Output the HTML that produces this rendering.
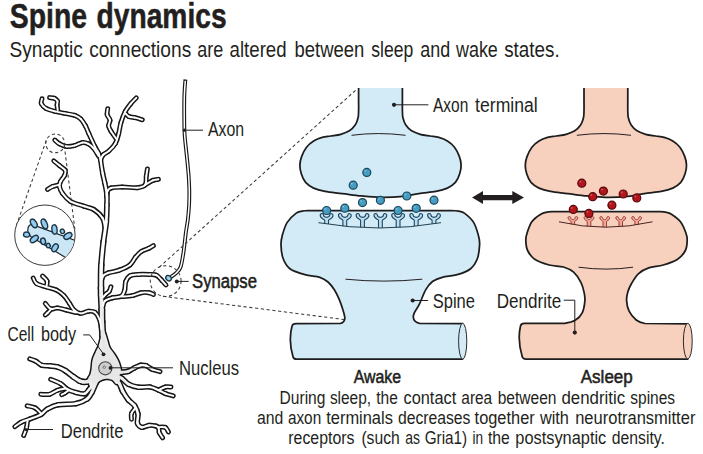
<!DOCTYPE html>
<html><head><meta charset="utf-8">
<style>
html,body{margin:0;padding:0;background:#fff;}
svg{display:block;}
text{font-family:"Liberation Sans",sans-serif;fill:#231f20;}
.lbl{font-size:20px;}
.cap{font-size:18.7px;}
.med{stroke:#231f20;stroke-width:0.55px;stroke-linejoin:round;}
.k{stroke:#161616;fill:none;stroke-linecap:round;stroke-linejoin:round;}
.w{stroke:url(#ng);fill:none;stroke-linecap:round;stroke-linejoin:round;}
.ld{stroke:#231f20;stroke-width:1;fill:none;}
.dash{stroke:#3a3a3a;stroke-width:1.05;fill:none;stroke-dasharray:3.2 2.6;}
</style></head><body>
<svg width="703" height="454" viewBox="0 0 703 454">
<defs>
<radialGradient id="ng" gradientUnits="userSpaceOnUse" cx="105" cy="367" r="40">
<stop offset="0" stop-color="#e3e3e3"/><stop offset="0.45" stop-color="#e8e8e8"/><stop offset="1" stop-color="#ffffff"/>
</radialGradient>
<linearGradient id="tg" gradientUnits="userSpaceOnUse" x1="0" y1="350" x2="0" y2="262">
<stop offset="0" stop-color="#e6e6e6"/><stop offset="0.5" stop-color="#ededed"/><stop offset="1" stop-color="#ffffff"/>
</linearGradient>
<clipPath id="magc"><circle cx="44.9" cy="235.2" r="29.8"/></clipPath>
</defs>
<rect width="703" height="454" fill="#fff"/>

<!-- TEXT -->
<text font-size="34.2" font-weight="bold" stroke="#231f20" stroke-width="0.5" y="28.4"><tspan x="9.8" textLength="77.3" lengthAdjust="spacingAndGlyphs">Spine</tspan> <tspan x="96.6" textLength="130.0" lengthAdjust="spacingAndGlyphs">dynamics</tspan></text>
<text font-size="22.2" y="56.7"><tspan x="9.6" textLength="73.2" lengthAdjust="spacingAndGlyphs">Synaptic</tspan> <tspan x="89.2" textLength="102.0" lengthAdjust="spacingAndGlyphs">connections</tspan> <tspan x="197.2" textLength="26.0" lengthAdjust="spacingAndGlyphs">are</tspan> <tspan x="229.6" textLength="57.0" lengthAdjust="spacingAndGlyphs">altered</tspan> <tspan x="294.5" textLength="69.8" lengthAdjust="spacingAndGlyphs">between</tspan> <tspan x="371.3" textLength="42.0" lengthAdjust="spacingAndGlyphs">sleep</tspan> <tspan x="420.3" textLength="29.9" lengthAdjust="spacingAndGlyphs">and</tspan> <tspan x="456.0" textLength="41.8" lengthAdjust="spacingAndGlyphs">wake</tspan> <tspan x="504.2" textLength="55.5" lengthAdjust="spacingAndGlyphs">states.</tspan></text>
<text class="cap" y="403.7"><tspan x="279.6" textLength="45.8" lengthAdjust="spacingAndGlyphs">During</tspan> <tspan x="329.9" textLength="41.1" lengthAdjust="spacingAndGlyphs">sleep,</tspan> <tspan x="376.3" textLength="21.6" lengthAdjust="spacingAndGlyphs">the</tspan> <tspan x="403.5" textLength="52.7" lengthAdjust="spacingAndGlyphs">contact</tspan> <tspan x="461.3" textLength="30.9" lengthAdjust="spacingAndGlyphs">area</tspan> <tspan x="497.7" textLength="58.8" lengthAdjust="spacingAndGlyphs">between</tspan> <tspan x="561.5" textLength="63.6" lengthAdjust="spacingAndGlyphs">dendritic</tspan> <tspan x="630.3" textLength="44.8" lengthAdjust="spacingAndGlyphs">spines</tspan></text>
<text class="cap" y="424.1"><tspan x="257.0" textLength="26.3" lengthAdjust="spacingAndGlyphs">and</tspan> <tspan x="287.9" textLength="33.3" lengthAdjust="spacingAndGlyphs">axon</tspan> <tspan x="326.2" textLength="66.7" lengthAdjust="spacingAndGlyphs">terminals</tspan> <tspan x="397.9" textLength="72.6" lengthAdjust="spacingAndGlyphs">decreases</tspan> <tspan x="474.6" textLength="60.1" lengthAdjust="spacingAndGlyphs">together</tspan> <tspan x="539.9" textLength="29.0" lengthAdjust="spacingAndGlyphs">with</tspan> <tspan x="575.2" textLength="120.2" lengthAdjust="spacingAndGlyphs">neurotransmitter</tspan></text>
<text class="cap" y="444.2"><tspan x="288.3" textLength="66.2" lengthAdjust="spacingAndGlyphs">receptors</tspan> <tspan x="361.4" textLength="38.4" lengthAdjust="spacingAndGlyphs">(such</tspan> <tspan x="405.3" textLength="14.8" lengthAdjust="spacingAndGlyphs">as</tspan> <tspan x="424.7" textLength="42.5" lengthAdjust="spacingAndGlyphs">Gria1)</tspan> <tspan x="472.6" textLength="10.6" lengthAdjust="spacingAndGlyphs">in</tspan> <tspan x="487.9" textLength="21.9" lengthAdjust="spacingAndGlyphs">the</tspan> <tspan x="515.3" textLength="91.0" lengthAdjust="spacingAndGlyphs">postsynaptic</tspan> <tspan x="611.8" textLength="53.1" lengthAdjust="spacingAndGlyphs">density.</tspan></text>
<!-- /TEXT -->

<!-- SYNAPSES -->
<g id="awake">
<path id="aw-term" d="M358.6,88.0 C358.6,90.0 358.6,96.2 358.6,100.0 C358.6,103.8 358.7,107.8 358.6,110.8 C358.5,113.8 358.6,115.6 358.0,118.0 C357.4,120.4 356.6,123.0 355.2,125.1 C353.8,127.2 351.8,129.3 349.4,130.8 C347.0,132.3 343.9,133.4 340.8,134.3 C337.7,135.2 333.9,135.5 330.8,136.0 C327.7,136.5 325.1,136.6 322.2,137.4 C319.3,138.2 316.2,139.3 313.6,140.9 C311.0,142.5 308.5,144.6 306.5,147.2 C304.5,149.8 302.7,153.6 301.6,156.6 C300.5,159.6 299.9,162.3 299.9,165.2 C299.8,168.1 300.4,170.9 301.3,173.8 C302.2,176.7 303.6,180.0 305.6,182.4 C307.7,184.8 310.4,186.6 313.6,188.1 C316.9,189.6 320.3,190.5 325.1,191.4 C329.9,192.3 336.3,192.8 342.3,193.6 C348.3,194.3 354.7,195.3 361.0,195.9 C367.3,196.5 373.5,197.2 380.0,197.3 C386.5,197.4 393.6,197.3 400.0,196.7 C406.4,196.1 412.7,194.5 418.7,193.6 C424.7,192.7 431.1,192.3 435.9,191.4 C440.7,190.5 444.1,189.6 447.4,188.1 C450.6,186.6 453.3,184.8 455.4,182.4 C457.4,180.0 458.8,176.7 459.7,173.8 C460.6,170.9 461.2,168.1 461.1,165.2 C461.1,162.3 460.5,159.6 459.4,156.6 C458.3,153.6 456.5,149.8 454.5,147.2 C452.5,144.6 450.0,142.5 447.4,140.9 C444.8,139.3 441.7,138.2 438.8,137.4 C435.9,136.6 433.3,136.5 430.2,136.0 C427.1,135.5 423.3,135.2 420.2,134.3 C417.1,133.4 414.0,132.3 411.6,130.8 C409.2,129.3 407.2,127.2 405.8,125.1 C404.4,123.0 403.6,120.4 403.0,118.0 C402.4,115.6 402.5,113.8 402.4,110.8 C402.3,107.8 402.4,103.8 402.4,100.0 C402.4,96.2 402.4,90.0 402.4,88.0" fill="#d2ebf7" stroke="#1d1d1d" stroke-width="1.75"/>
<path d="M351.5,135.3 Q378,131.8 405.5,135.3" class="ld" stroke-width="0.9"/>
<path id="aw-spine" d="M307.9,210.5 L451.2,210.5 C454.3,210.6 456.2,210.7 458.5,211.2 C460.8,211.7 462.2,211.5 464.7,213.4 C467.2,215.3 471.3,218.7 473.6,222.4 C475.9,226.1 477.5,232.1 478.5,235.8 C479.5,239.5 479.8,241.1 479.6,244.8 C479.4,248.5 479.0,254.2 477.5,258.2 C476.0,262.2 474.0,265.9 470.6,268.7 C467.2,271.4 461.9,273.3 457.2,274.7 C452.5,276.1 446.4,276.2 442.3,277.3 C438.2,278.4 435.2,279.4 432.5,281.5 C429.8,283.6 428.0,285.8 425.8,289.6 C423.6,293.4 421.3,300.2 419.4,304.1 C417.5,308.0 415.3,310.7 414.3,312.9 C413.3,315.1 413.2,315.9 413.3,317.3 C413.4,318.7 414.0,320.2 415.0,321.2 C416.0,322.2 417.0,322.9 419.5,323.3 L462.4,323.5 L462.4,359.2 L296.5,359.2 C294.5,359.2 293.4,358.6 293,356.8 C290.4,348 289.3,336 292.1,325.8 C292.5,324.2 294,323.5 296,323.5 L340.5,323.4 C342.8,323.0 343.3,322.0 344.0,321.0 C344.7,320.0 345.0,319.2 344.8,317.3 C344.6,315.4 343.8,312.5 342.8,309.4 C341.8,306.3 340.4,302.0 339.0,298.8 C337.6,295.6 336.3,292.8 334.5,290.0 C332.7,287.2 330.4,284.1 328.0,282.0 C325.6,279.9 323.7,278.5 319.8,277.3 C315.9,276.1 309.9,276.1 304.9,274.7 C299.9,273.3 293.5,271.4 289.9,268.7 C286.2,265.9 284.5,262.2 283.0,258.2 C281.5,254.2 281.1,248.5 281.0,244.8 C280.9,241.1 281.2,239.5 282.2,235.8 C283.2,232.1 284.9,226.1 287.2,222.4 C289.5,218.7 293.4,215.3 295.9,213.4 C298.4,211.5 300.0,211.7 302.0,211.2 C304.0,210.7 304.9,210.6 307.9,210.5 Z" fill="#d2ebf7" stroke="#1d1d1d" stroke-width="1.75"/>
<ellipse cx="462.7" cy="341.2" rx="4.1" ry="17.9" fill="#d2ebf7" stroke="#2a2a2a" stroke-width="1"/>
<path d="M345.5,279.2 Q384,283 422.3,279.2" class="ld" stroke-width="0.9"/>
</g>

<g id="asleep">
<path transform="translate(225.4 0)" d="M358.6,88.0 C358.6,90.0 358.6,96.2 358.6,100.0 C358.6,103.8 358.7,107.8 358.6,110.8 C358.5,113.8 358.6,115.6 358.0,118.0 C357.4,120.4 356.6,123.0 355.2,125.1 C353.8,127.2 351.8,129.3 349.4,130.8 C347.0,132.3 343.9,133.4 340.8,134.3 C337.7,135.2 333.9,135.5 330.8,136.0 C327.7,136.5 325.1,136.6 322.2,137.4 C319.3,138.2 316.2,139.3 313.6,140.9 C311.0,142.5 308.5,144.6 306.5,147.2 C304.5,149.8 302.7,153.6 301.6,156.6 C300.5,159.6 299.9,162.3 299.9,165.2 C299.8,168.1 300.4,170.9 301.3,173.8 C302.2,176.7 303.6,180.0 305.6,182.4 C307.7,184.8 310.4,186.6 313.6,188.1 C316.9,189.6 320.3,190.5 325.1,191.4 C329.9,192.3 336.3,192.8 342.3,193.6 C348.3,194.3 354.7,195.3 361.0,195.9 C367.3,196.5 373.5,197.2 380.0,197.3 C386.5,197.4 393.6,197.3 400.0,196.7 C406.4,196.1 412.7,194.5 418.7,193.6 C424.7,192.7 431.1,192.3 435.9,191.4 C440.7,190.5 444.1,189.6 447.4,188.1 C450.6,186.6 453.3,184.8 455.4,182.4 C457.4,180.0 458.8,176.7 459.7,173.8 C460.6,170.9 461.2,168.1 461.1,165.2 C461.1,162.3 460.5,159.6 459.4,156.6 C458.3,153.6 456.5,149.8 454.5,147.2 C452.5,144.6 450.0,142.5 447.4,140.9 C444.8,139.3 441.7,138.2 438.8,137.4 C435.9,136.6 433.3,136.5 430.2,136.0 C427.1,135.5 423.3,135.2 420.2,134.3 C417.1,133.4 414.0,132.3 411.6,130.8 C409.2,129.3 407.2,127.2 405.8,125.1 C404.4,123.0 403.6,120.4 403.0,118.0 C402.4,115.6 402.5,113.8 402.4,110.8 C402.3,107.8 402.4,103.8 402.4,100.0 C402.4,96.2 402.4,90.0 402.4,88.0" fill="#f8d0be" stroke="#1d1d1d" stroke-width="1.75"/>
<path d="M576.8,135.300 Q604,131.800 631,135.300" class="ld" stroke-width="0.9"/>
<path id="as-spine" d="M552,211.7 L660.3,211.7 C663.0,211.8 664.6,211.9 666.5,212.4 C668.4,212.9 669.5,212.9 671.8,214.4 C674.1,215.9 678.1,218.6 680.5,221.7 C682.9,224.8 684.9,230.1 686.0,233.2 C687.1,236.3 687.3,237.5 687.2,240.4 C687.1,243.3 687.0,247.4 685.4,250.5 C683.8,253.6 681.3,256.8 677.6,259.2 C673.9,261.6 668.0,263.6 663.2,265.0 C658.4,266.4 652.8,266.5 648.7,267.9 C644.6,269.3 641.5,271.0 638.6,273.6 C635.7,276.2 633.2,280.6 631.4,283.7 C629.6,286.8 628.6,289.2 627.8,292.0 C627.0,294.8 626.4,297.4 626.6,300.6 C626.8,303.8 627.5,308.0 629.1,311.2 C630.7,314.4 633.6,317.9 636.2,320.0 C638.9,322.1 641.9,322.9 645.0,323.5 L687.6,323.8 L687.6,359 L526,359 C523.6,359 522.6,358.3 522.2,356.6 C519.6,348 518.2,336 520.5,326 C520.9,324.2 522.2,323.4 524.5,323.4 L564.6,323.3 C568.0,322.8 572.3,322.0 575.2,320.3 C578.1,318.6 580.6,316.2 582.2,312.9 C583.8,309.6 584.6,304.1 584.9,300.6 C585.2,297.1 584.7,295.1 584.0,292.0 C583.3,288.9 582.6,285.6 580.9,282.3 C579.2,279.0 576.5,274.8 573.6,272.2 C570.7,269.6 567.6,268.2 563.5,267.0 C559.4,265.8 553.9,266.3 549.1,265.0 C544.3,263.7 538.3,261.6 534.7,259.2 C531.1,256.8 529.1,253.6 527.6,250.5 C526.1,247.4 525.9,243.3 525.8,240.4 C525.7,237.5 526.0,236.3 527.0,233.2 C528.0,230.1 529.6,224.8 531.8,221.7 C534.0,218.6 538.0,215.9 540.4,214.4 C542.8,212.9 544.1,212.9 546.0,212.4 C547.9,211.9 549.3,211.8 552.0,211.7 Z" fill="#f8d0be" stroke="#1d1d1d" stroke-width="1.75"/>
<ellipse cx="687.8" cy="341.1" rx="4.4" ry="17.8" fill="#f8d0be" stroke="#2a2a2a" stroke-width="1"/>
<path d="M578.600,267.200 Q606,271 633,267.200" class="ld" stroke-width="0.9"/>
</g>


<!-- RV -->
<path d="M324.7,224.0 L324.7,220.3 C324.7,219.0 320.2,219.1 320.2,215.0 C320.0,213.5 323.1,212.9 323.4,214.6 C323.5,216.8 325.6,217.4 326.6,217.4 C327.6,217.4 329.7,216.8 329.8,214.6 C330.1,212.9 333.2,213.5 333.0,215.5 C333.0,219.1 328.5,219.0 328.5,220.3 L328.5,224.0" fill="#bcdef1" stroke="#1f465f" stroke-width="1.1" stroke-linejoin="round"/>
<path d="M342.9,226.3 L342.9,220.3 C342.9,219.0 338.4,219.1 338.4,215.0 C338.2,213.5 341.3,212.9 341.6,214.6 C341.7,216.8 343.8,217.4 344.8,217.4 C345.8,217.4 347.9,216.8 348.0,214.6 C348.3,212.9 351.4,213.5 351.2,215.5 C351.2,219.1 346.7,219.0 346.7,220.3 L346.7,226.3" fill="#bcdef1" stroke="#1f465f" stroke-width="1.1" stroke-linejoin="round"/>
<path d="M360.6,227.6 L360.6,220.3 C360.6,219.0 356.1,219.1 356.1,215.0 C355.9,213.5 359.0,212.9 359.3,214.6 C359.4,216.8 361.5,217.4 362.5,217.4 C363.5,217.4 365.6,216.8 365.7,214.6 C366.0,212.9 369.1,213.5 368.9,215.5 C368.9,219.1 364.4,219.0 364.4,220.3 L364.4,227.6" fill="#bcdef1" stroke="#1f465f" stroke-width="1.1" stroke-linejoin="round"/>
<path d="M378.5,228.0 L378.5,220.3 C378.5,219.0 374.0,219.1 374.0,215.0 C373.8,213.5 376.9,212.9 377.2,214.6 C377.3,216.8 379.4,217.4 380.4,217.4 C381.4,217.4 383.5,216.8 383.6,214.6 C383.9,212.9 387.0,213.5 386.8,215.5 C386.8,219.1 382.3,219.0 382.3,220.3 L382.3,228.0" fill="#bcdef1" stroke="#1f465f" stroke-width="1.1" stroke-linejoin="round"/>
<path d="M396.2,227.5 L396.2,220.3 C396.2,219.0 391.7,219.1 391.7,215.0 C391.5,213.5 394.6,212.9 394.9,214.6 C395.0,216.8 397.1,217.4 398.1,217.4 C399.1,217.4 401.2,216.8 401.3,214.6 C401.6,212.9 404.7,213.5 404.5,215.5 C404.5,219.1 400.0,219.0 400.0,220.3 L400.0,227.5" fill="#bcdef1" stroke="#1f465f" stroke-width="1.1" stroke-linejoin="round"/>
<path d="M414.3,226.1 L414.3,220.3 C414.3,219.0 409.8,219.1 409.8,215.0 C409.6,213.5 412.7,212.9 413.0,214.6 C413.1,216.8 415.2,217.4 416.2,217.4 C417.2,217.4 419.3,216.8 419.4,214.6 C419.7,212.9 422.8,213.5 422.6,215.5 C422.6,219.1 418.1,219.0 418.1,220.3 L418.1,226.1" fill="#bcdef1" stroke="#1f465f" stroke-width="1.1" stroke-linejoin="round"/>
<path d="M432.1,223.8 L432.1,220.3 C432.1,219.0 427.6,219.1 427.6,215.0 C427.4,213.5 430.5,212.9 430.8,214.6 C430.9,216.8 433.0,217.4 434.0,217.4 C435.0,217.4 437.1,216.8 437.2,214.6 C437.5,212.9 440.6,213.5 440.4,215.5 C440.4,219.1 435.9,219.0 435.9,220.3 L435.9,223.8" fill="#bcdef1" stroke="#1f465f" stroke-width="1.1" stroke-linejoin="round"/>
<path d="M318.4,222.7 Q380,233.3 441,222.7" fill="none" stroke="#24404f" stroke-width="1"/>
<circle cx="366.8" cy="172.4" r="4.0" fill="#469dc2" stroke="#1c4659" stroke-width="1.2"/>
<circle cx="365.4" cy="170.9" r="0.9" fill="#7cc0dc"/>
<circle cx="353.2" cy="185.2" r="4.0" fill="#469dc2" stroke="#1c4659" stroke-width="1.2"/>
<circle cx="351.8" cy="183.7" r="0.9" fill="#7cc0dc"/>
<circle cx="362.5" cy="202.6" r="4.0" fill="#469dc2" stroke="#1c4659" stroke-width="1.2"/>
<circle cx="361.1" cy="201.1" r="0.9" fill="#7cc0dc"/>
<circle cx="380.4" cy="200.3" r="4.0" fill="#469dc2" stroke="#1c4659" stroke-width="1.2"/>
<circle cx="379.0" cy="198.8" r="0.9" fill="#7cc0dc"/>
<circle cx="406.8" cy="196" r="4.0" fill="#469dc2" stroke="#1c4659" stroke-width="1.2"/>
<circle cx="405.4" cy="194.5" r="0.9" fill="#7cc0dc"/>
<circle cx="434" cy="200.2" r="4.0" fill="#469dc2" stroke="#1c4659" stroke-width="1.2"/>
<circle cx="432.6" cy="198.7" r="0.9" fill="#7cc0dc"/>
<circle cx="326.6" cy="210.5" r="4.0" fill="#469dc2" stroke="#1c4659" stroke-width="1.2"/>
<circle cx="325.2" cy="209.0" r="0.9" fill="#7cc0dc"/>
<circle cx="344.8" cy="208.2" r="4.0" fill="#469dc2" stroke="#1c4659" stroke-width="1.2"/>
<circle cx="343.4" cy="206.7" r="0.9" fill="#7cc0dc"/>
<circle cx="398.1" cy="210.5" r="4.0" fill="#469dc2" stroke="#1c4659" stroke-width="1.2"/>
<circle cx="396.7" cy="209.0" r="0.9" fill="#7cc0dc"/>
<circle cx="416.2" cy="208.3" r="4.0" fill="#469dc2" stroke="#1c4659" stroke-width="1.2"/>
<circle cx="414.8" cy="206.8" r="0.9" fill="#7cc0dc"/>
<path d="M571.1,224.5 L571.1,221.7 C571.1,220.4 568.0,220.5 568.0,217.6 C567.8,216.5 570.4,215.9 570.7,217.6 C570.8,219.0 571.9,219.6 572.9,219.6 C573.9,219.6 575.0,219.0 575.1,217.6 C575.4,215.9 578.0,216.5 577.8,218.1 C577.8,220.5 574.6,220.4 574.6,221.7 L574.6,224.5" fill="#f5a593" stroke="#93423a" stroke-width="1.0" stroke-linejoin="round"/>
<path d="M587.2,226.5 L587.2,221.7 C587.2,220.4 584.1,220.5 584.1,217.6 C583.9,216.5 586.5,215.9 586.8,217.6 C586.9,219.0 588.0,219.6 589.0,219.6 C590.0,219.6 591.1,219.0 591.2,217.6 C591.5,215.9 594.1,216.5 593.9,218.1 C593.9,220.5 590.8,220.4 590.8,221.7 L590.8,226.5" fill="#f5a593" stroke="#93423a" stroke-width="1.0" stroke-linejoin="round"/>
<path d="M603.0,227.2 L603.0,221.7 C603.0,220.4 599.8,220.5 599.8,217.6 C599.6,216.5 602.2,215.9 602.5,217.6 C602.6,219.0 603.7,219.6 604.7,219.6 C605.7,219.6 606.8,219.0 606.9,217.6 C607.2,215.9 609.8,216.5 609.6,218.1 C609.6,220.5 606.5,220.4 606.5,221.7 L606.5,227.2" fill="#f5a593" stroke="#93423a" stroke-width="1.0" stroke-linejoin="round"/>
<path d="M619.0,226.6 L619.0,221.7 C619.0,220.4 615.8,220.5 615.8,217.6 C615.6,216.5 618.2,215.9 618.5,217.6 C618.6,219.0 619.7,219.6 620.7,219.6 C621.7,219.6 622.8,219.0 622.9,217.6 C623.2,215.9 625.8,216.5 625.6,218.1 C625.6,220.5 622.5,220.4 622.5,221.7 L622.5,226.6" fill="#f5a593" stroke="#93423a" stroke-width="1.0" stroke-linejoin="round"/>
<path d="M634.9,224.8 L634.9,221.7 C634.9,220.4 631.7,220.5 631.7,217.6 C631.5,216.5 634.1,215.9 634.4,217.6 C634.5,219.0 635.6,219.6 636.6,219.6 C637.6,219.6 638.7,219.0 638.8,217.6 C639.1,215.9 641.7,216.5 641.5,218.1 C641.5,220.5 638.4,220.4 638.4,221.7 L638.4,224.8" fill="#f5a593" stroke="#93423a" stroke-width="1.0" stroke-linejoin="round"/>
<path d="M559,221.8 Q605.700,232.600 652.500,221.8" fill="none" stroke="#4a2420" stroke-width="1"/>
<circle cx="581.8" cy="183.2" r="4.0" fill="#b3151c" stroke="#560b0e" stroke-width="1.2"/>
<circle cx="580.4" cy="181.7" r="0.9" fill="#d45a5a"/>
<circle cx="603.4" cy="191.1" r="4.0" fill="#b3151c" stroke="#560b0e" stroke-width="1.2"/>
<circle cx="602.0" cy="189.6" r="0.9" fill="#d45a5a"/>
<circle cx="592.7" cy="196.7" r="4.0" fill="#b3151c" stroke="#560b0e" stroke-width="1.2"/>
<circle cx="591.3" cy="195.2" r="0.9" fill="#d45a5a"/>
<circle cx="623.2" cy="194" r="4.0" fill="#b3151c" stroke="#560b0e" stroke-width="1.2"/>
<circle cx="621.8" cy="192.5" r="0.9" fill="#d45a5a"/>
<circle cx="636.8" cy="197.9" r="4.0" fill="#b3151c" stroke="#560b0e" stroke-width="1.2"/>
<circle cx="635.4" cy="196.4" r="0.9" fill="#d45a5a"/>
<circle cx="611.9" cy="205.2" r="4.0" fill="#b3151c" stroke="#560b0e" stroke-width="1.2"/>
<circle cx="610.5" cy="203.7" r="0.9" fill="#d45a5a"/>
<circle cx="573.3" cy="209.4" r="4.0" fill="#b3151c" stroke="#560b0e" stroke-width="1.2"/>
<circle cx="571.9" cy="207.9" r="0.9" fill="#d45a5a"/>
<circle cx="588.9" cy="213.4" r="4.0" fill="#b3151c" stroke="#560b0e" stroke-width="1.2"/>
<circle cx="587.5" cy="211.9" r="0.9" fill="#d45a5a"/>
<!-- /RV -->
<!-- arrow -->
<path d="M472.1,197.500 L483,191 L483,194.900 L512.300,194.900 L512.300,191 L524,197.500 L512.300,204 L512.300,200.300 L483,200.300 L483,204 Z" fill="#231f20"/>


<!-- NEURON -->
<g class="k">
<path d="M102.2,330.0 C102.0,331.0 101.8,333.3 101.2,336.0 C100.6,338.7 99.5,343.4 98.6,346.0 C97.7,348.6 97.0,349.2 96.0,351.5 C95.0,353.8 93.3,357.1 92.6,360.0 C91.9,362.9 92.0,366.6 91.6,369.0 C91.2,371.4 91.0,372.9 90.4,374.5 C89.8,376.1 88.5,377.1 88.2,378.5 C87.9,379.9 88.0,381.4 88.5,383.0 C89.0,384.6 90.3,386.7 91.0,388.0 C91.7,389.3 91.8,391.3 92.5,391.0 C93.2,390.7 94.3,387.7 95.5,386.0 C96.7,384.3 97.8,382.2 99.5,381.0 C101.2,379.8 103.8,378.9 106.0,378.7 C108.2,378.5 110.8,379.1 112.5,380.0 C114.2,380.9 115.2,384.0 116.5,384.0 C117.8,384.0 119.6,381.3 120.0,380.0 C120.4,378.7 118.8,377.3 119.0,376.0 C119.2,374.7 120.8,373.7 121.0,372.0 C121.2,370.3 120.6,368.1 120.0,366.0 C119.4,363.9 118.6,361.7 117.5,359.5 C116.4,357.3 114.8,355.0 113.5,353.0 C112.2,351.0 110.6,349.8 109.6,347.6 C108.5,345.4 107.9,342.3 107.2,340.0 C106.5,337.7 106.0,335.7 105.4,334.0 C104.8,332.3 103.9,330.7 103.6,330.0 Z" stroke-width="3.0" fill="#1d1d1d"/>
<path d="M104.2,347.0 C104.0,345.0 103.2,339.2 102.8,335.0" stroke-width="7.33"/>
<path d="M102.8,335.0 C102.4,330.8 102.2,326.2 102.0,322.0" stroke-width="7.17"/>
<path d="M102.0,322.0 C101.8,317.8 101.9,314.5 101.8,310.0" stroke-width="7.02"/>
<path d="M101.8,310.0 C101.7,305.5 101.3,298.7 101.2,295.0" stroke-width="6.85"/>
<path d="M101.2,295.0 C101.1,291.3 101.0,293.0 101.0,288.0" stroke-width="6.72"/>
<path d="M101.0,288.0 C101.0,283.0 100.9,272.7 101.3,265.0" stroke-width="6.54"/>
<path d="M101.3,265.0 C101.7,257.3 102.6,249.2 103.4,242.0" stroke-width="6.25"/>
<path d="M103.4,242.0 C104.2,234.8 105.6,228.2 106.2,222.0" stroke-width="5.99"/>
<path d="M106.2,222.0 C106.8,215.8 106.8,209.7 106.9,205.0" stroke-width="5.76"/>
<path d="M106.9,205.0 C107.0,200.3 107.2,197.3 106.8,193.6" stroke-width="5.59"/>
<path d="M106.8,193.6 C106.4,189.9 105.4,186.0 104.7,182.6" stroke-width="5.45"/>
<path d="M104.7,182.6 C104.0,179.2 103.3,176.8 102.6,173.0" stroke-width="5.32"/>
<path d="M102.6,173.0 C101.9,169.2 100.9,162.2 100.6,160.0" stroke-width="5.18"/>
<path d="M100.6,160.0 C100.2,158.8 99.5,155.2 98.5,153.0" stroke-width="5.00"/>
<path d="M98.5,153.0 C97.5,150.8 96.5,149.9 94.9,146.7" stroke-width="4.99"/>
<path d="M94.9,146.7 C93.3,143.4 90.4,137.0 88.8,133.5" stroke-width="4.98"/>
<path d="M88.8,133.5 C87.2,130.0 86.7,128.2 85.4,125.8" stroke-width="4.96"/>
<path d="M85.4,125.8 C84.1,123.4 82.6,120.7 80.8,119.0" stroke-width="4.96"/>
<path d="M80.8,119.0 C79.0,117.3 77.4,116.3 74.8,115.4" stroke-width="4.95"/>
<path d="M74.8,115.4 C72.2,114.5 68.2,114.1 64.9,113.4" stroke-width="4.94"/>
<path d="M64.9,113.4 C61.6,112.7 58.0,112.2 54.9,111.4" stroke-width="4.93"/>
<path d="M54.9,111.4 C51.8,110.6 48.3,109.7 46.0,108.4" stroke-width="4.92"/>
<path d="M46.0,108.4 C43.7,107.1 42.0,105.1 41.3,103.5" stroke-width="4.91"/>
<path d="M41.3,103.5 C40.6,101.9 41.9,99.6 42.0,98.8" stroke-width="4.90"/>
<path d="M57.7,110.0 C57.6,109.2 57.2,106.5 57.1,105.0" stroke-width="4.95"/>
<path d="M57.1,105.0 C57.0,103.5 57.9,102.1 57.4,101.0" stroke-width="4.95"/>
<path d="M57.4,101.0 C56.9,99.9 55.7,98.9 54.4,98.3" stroke-width="4.95"/>
<path d="M54.4,98.3 C53.1,97.7 50.4,97.7 49.6,97.6" stroke-width="4.95"/>
<path d="M98.6,156.0 C97.7,154.7 95.1,150.0 93.4,148.0" stroke-width="4.95"/>
<path d="M93.4,148.0 C91.7,146.0 90.2,144.7 88.3,143.8" stroke-width="4.95"/>
<path d="M88.3,143.8 C86.4,142.9 84.6,142.3 82.3,142.6" stroke-width="4.95"/>
<path d="M82.3,142.6 C80.0,142.9 77.0,145.0 74.4,145.6" stroke-width="4.95"/>
<path d="M74.4,145.6 C71.8,146.2 69.0,146.7 66.5,146.4" stroke-width="4.95"/>
<path d="M66.5,146.4 C64.0,146.1 61.5,144.9 59.5,143.8" stroke-width="4.95"/>
<path d="M59.5,143.8 C57.5,142.8 55.6,140.7 54.8,140.1" stroke-width="4.95"/>
<path d="M100.6,160.0 C101.0,159.2 101.6,156.5 103.0,155.0" stroke-width="5.00"/>
<path d="M103.0,155.0 C104.4,153.5 106.7,152.9 108.8,151.0" stroke-width="4.99"/>
<path d="M108.8,151.0 C110.9,149.1 113.8,146.3 115.4,143.4" stroke-width="4.98"/>
<path d="M115.4,143.4 C117.1,140.5 117.8,137.0 118.7,133.5" stroke-width="4.96"/>
<path d="M118.7,133.5 C119.6,130.0 119.9,126.1 121.0,122.4" stroke-width="4.95"/>
<path d="M121.0,122.4 C122.1,118.7 123.7,114.5 125.3,111.4" stroke-width="4.93"/>
<path d="M125.3,111.4 C126.9,108.3 129.0,106.0 130.8,103.7" stroke-width="4.92"/>
<path d="M130.8,103.7 C132.6,101.4 135.4,98.8 136.3,97.8" stroke-width="4.91"/>
<path d="M125.5,113.5 C126.1,114.0 127.4,115.9 129.0,116.6" stroke-width="4.95"/>
<path d="M129.0,116.6 C130.6,117.3 132.8,117.1 135.0,117.6" stroke-width="4.95"/>
<path d="M135.0,117.6 C137.2,118.1 141.1,119.4 142.3,119.8" stroke-width="4.95"/>
<path d="M116.8,139.5 C115.8,138.1 112.4,133.6 111.0,131.3" stroke-width="4.95"/>
<path d="M111.0,131.3 C109.6,129.0 108.8,127.6 108.6,125.7" stroke-width="4.95"/>
<path d="M108.6,125.7 C108.4,123.8 110.2,122.0 110.0,120.2" stroke-width="4.95"/>
<path d="M110.0,120.2 C109.8,118.4 107.6,116.6 107.2,114.7" stroke-width="4.95"/>
<path d="M107.2,114.7 C106.8,112.8 107.6,109.8 107.7,108.8" stroke-width="4.95"/>
<path d="M105.0,228.0 C104.6,226.3 104.4,221.0 102.5,217.9" stroke-width="5.09"/>
<path d="M102.5,217.9 C100.6,214.8 96.7,211.4 93.7,209.5" stroke-width="5.07"/>
<path d="M93.7,209.5 C90.7,207.6 88.2,207.7 84.3,206.3" stroke-width="5.04"/>
<path d="M84.3,206.3 C80.4,204.9 74.0,203.5 70.4,201.3" stroke-width="5.02"/>
<path d="M70.4,201.3 C66.8,199.2 64.3,195.9 62.5,193.4" stroke-width="4.99"/>
<path d="M62.5,193.4 C60.7,190.9 59.8,188.5 59.5,186.5" stroke-width="4.97"/>
<path d="M59.5,186.5 C59.2,184.5 59.7,183.3 60.5,181.5" stroke-width="4.96"/>
<path d="M60.5,181.5 C61.3,179.7 63.7,177.4 64.5,175.6" stroke-width="4.95"/>
<path d="M64.5,175.6 C65.3,173.8 66.1,172.1 65.3,170.4" stroke-width="4.94"/>
<path d="M65.3,170.4 C64.5,168.7 61.4,167.2 59.5,165.6" stroke-width="4.92"/>
<path d="M59.5,165.6 C57.6,164.0 54.8,161.7 53.8,160.9" stroke-width="4.91"/>
<path d="M59.6,184.6 C58.4,184.9 54.6,185.7 52.6,186.5" stroke-width="4.95"/>
<path d="M52.6,186.5 C50.6,187.3 48.4,188.9 47.6,189.4" stroke-width="4.95"/>
<path d="M106.6,196.0 C106.8,195.2 106.8,192.3 107.5,191.0" stroke-width="5.00"/>
<path d="M107.5,191.0 C108.2,189.7 108.6,188.7 111.0,188.0" stroke-width="4.99"/>
<path d="M111.0,188.0 C113.4,187.3 117.6,187.1 122.0,187.0" stroke-width="4.97"/>
<path d="M122.0,187.0 C126.4,186.9 133.5,188.1 137.4,187.7" stroke-width="4.95"/>
<path d="M137.4,187.7 C141.3,187.3 143.7,186.8 145.2,184.8" stroke-width="4.93"/>
<path d="M145.2,184.8 C146.7,182.9 145.9,178.6 146.3,176.0" stroke-width="4.92"/>
<path d="M146.3,176.0 C146.7,173.4 147.2,170.2 147.4,169.0" stroke-width="4.91"/>
<path d="M145.2,184.8 C146.5,184.1 150.7,181.3 152.9,180.4" stroke-width="4.95"/>
<path d="M152.9,180.4 C155.1,179.5 157.5,179.5 158.4,179.3" stroke-width="4.95"/>
<path d="M102.0,279.0 C102.2,278.4 102.5,276.5 103.5,275.5" stroke-width="5.09"/>
<path d="M103.5,275.5 C104.5,274.5 105.6,273.8 108.2,272.9" stroke-width="5.08"/>
<path d="M108.2,272.9 C110.8,272.0 115.5,271.6 119.2,270.2" stroke-width="5.05"/>
<path d="M119.2,270.2 C122.9,268.8 127.4,266.9 130.2,264.7" stroke-width="5.02"/>
<path d="M130.2,264.7 C132.9,262.5 133.8,259.2 135.7,257.0" stroke-width="4.98"/>
<path d="M135.7,257.0 C137.5,254.8 139.1,253.0 141.3,251.5" stroke-width="4.95"/>
<path d="M141.3,251.5 C143.5,250.0 147.0,249.2 149.0,248.2" stroke-width="4.93"/>
<path d="M149.0,248.2 C151.0,247.2 152.7,246.0 153.4,245.6" stroke-width="4.91"/>
<path d="M103.0,306.0 C103.3,305.2 103.3,302.4 104.9,301.0" stroke-width="5.09"/>
<path d="M104.9,301.0 C106.5,299.6 109.8,298.6 112.6,297.8" stroke-width="5.08"/>
<path d="M112.6,297.8 C115.3,297.0 119.4,297.5 121.4,296.2" stroke-width="5.06"/>
<path d="M121.4,296.2 C123.4,294.9 124.0,292.5 124.7,290.0" stroke-width="5.04"/>
<path d="M124.7,290.0 C125.4,287.5 124.9,283.7 125.8,281.3" stroke-width="5.02"/>
<path d="M125.8,281.3 C126.7,278.9 128.0,276.9 130.2,275.7" stroke-width="5.00"/>
<path d="M130.2,275.7 C132.4,274.5 135.7,274.6 139.0,274.4" stroke-width="4.98"/>
<path d="M139.0,274.4 C142.3,274.2 147.1,274.4 150.0,274.5" stroke-width="4.96"/>
<path d="M150.0,274.5 C152.9,274.6 154.5,274.2 156.4,275.2" stroke-width="4.94"/>
<path d="M156.4,275.2 C158.3,276.1 160.1,278.6 161.7,280.2" stroke-width="4.92"/>
<path d="M161.7,280.2 C163.3,281.8 165.3,284.2 166.0,285.0" stroke-width="4.91"/>
<path d="M122.5,296.5 C124.2,296.4 129.3,296.2 132.4,295.6" stroke-width="4.95"/>
<path d="M132.4,295.6 C135.5,295.0 138.5,293.2 141.3,292.7" stroke-width="4.95"/>
<path d="M141.3,292.7 C144.1,292.2 147.0,292.4 149.0,292.7" stroke-width="4.95"/>
<path d="M149.0,292.7 C151.0,293.0 152.7,294.2 153.4,294.5" stroke-width="4.95"/>
<path d="M103.2,297.0 C103.7,296.5 105.0,295.0 106.0,294.0" stroke-width="4.95"/>
<path d="M106.0,294.0 C107.0,293.0 108.5,292.4 109.3,291.2" stroke-width="4.95"/>
<path d="M109.3,291.2 C110.1,290.0 110.6,287.5 110.9,286.8" stroke-width="4.95"/>
<path d="M101.5,329.0 C101.1,327.3 100.4,321.7 99.3,318.9" stroke-width="4.90"/>
<path d="M99.3,318.9 C98.2,316.1 96.7,313.6 94.9,312.3" stroke-width="4.90"/>
<path d="M94.9,312.3 C93.1,311.0 90.7,311.0 88.3,311.2" stroke-width="4.90"/>
<path d="M88.3,311.2 C85.9,311.4 83.0,313.6 80.6,313.4" stroke-width="4.90"/>
<path d="M80.6,313.4 C78.2,313.2 75.8,311.6 74.0,310.0" stroke-width="4.90"/>
<path d="M74.0,310.0 C72.2,308.4 71.3,305.9 69.6,303.5" stroke-width="4.90"/>
<path d="M69.6,303.5 C67.9,301.1 66.2,297.9 64.0,295.7" stroke-width="4.90"/>
<path d="M64.0,295.7 C61.8,293.4 59.2,291.4 56.3,290.0" stroke-width="4.90"/>
<path d="M56.3,290.0 C53.4,288.6 49.7,288.1 46.4,287.0" stroke-width="4.90"/>
<path d="M46.4,287.0 C43.1,285.9 38.7,285.1 36.5,283.6" stroke-width="4.90"/>
<path d="M36.5,283.6 C34.3,282.1 33.8,278.9 33.2,278.0" stroke-width="4.90"/>
<path d="M46.4,286.5 C46.5,285.6 47.6,282.8 47.0,281.0" stroke-width="4.95"/>
<path d="M47.0,281.0 C46.4,279.2 43.2,276.8 42.5,276.0" stroke-width="4.95"/>
<path d="M76.0,312.5 C74.4,312.1 69.4,310.8 66.3,310.0" stroke-width="4.95"/>
<path d="M66.3,310.0 C63.2,309.2 60.0,308.1 57.4,307.9" stroke-width="4.95"/>
<path d="M57.4,307.9 C54.8,307.7 52.8,309.7 50.8,309.0" stroke-width="4.95"/>
<path d="M50.8,309.0 C48.8,308.3 46.2,304.4 45.3,303.5" stroke-width="4.95"/>
<path d="M51.5,308.8 C50.8,309.5 48.5,312.0 47.5,313.0" stroke-width="4.95"/>
<path d="M47.5,313.0 C46.5,314.0 45.7,314.7 45.3,315.0" stroke-width="4.95"/>
<path d="M96.0,376.0 C95.3,376.6 93.5,378.6 92.0,379.5" stroke-width="6.74"/>
<path d="M92.0,379.5 C90.5,380.4 88.9,381.2 87.3,381.6" stroke-width="6.61"/>
<path d="M87.3,381.6 C85.7,382.0 83.8,381.9 82.5,381.7" stroke-width="6.49"/>
<path d="M82.5,381.7 C81.2,381.5 80.9,381.5 79.4,380.7" stroke-width="6.39"/>
<path d="M79.4,380.7 C77.9,379.9 75.7,378.4 73.4,376.8" stroke-width="6.26"/>
<path d="M73.4,376.8 C71.1,375.2 68.1,372.4 65.5,370.8" stroke-width="6.05"/>
<path d="M65.5,370.8 C62.9,369.2 60.2,367.8 57.6,367.0" stroke-width="5.83"/>
<path d="M57.6,367.0 C55.0,366.2 52.4,366.2 49.7,365.9" stroke-width="5.62"/>
<path d="M49.7,365.9 C47.1,365.6 44.0,366.0 41.7,365.2" stroke-width="5.43"/>
<path d="M41.7,365.2 C39.4,364.4 37.8,362.2 35.8,361.2" stroke-width="5.24"/>
<path d="M35.8,361.2 C33.8,360.1 30.8,359.3 29.8,358.9" stroke-width="5.08"/>
<path d="M94.0,383.0 C93.2,384.1 90.6,387.7 89.0,389.5" stroke-width="5.54"/>
<path d="M89.0,389.5 C87.4,391.3 86.7,393.3 84.5,393.8" stroke-width="5.45"/>
<path d="M84.5,393.8 C82.3,394.3 78.9,393.3 76.0,392.5" stroke-width="5.35"/>
<path d="M76.0,392.5 C73.1,391.7 69.8,390.7 67.3,389.2" stroke-width="5.23"/>
<path d="M67.3,389.2 C64.8,387.7 63.5,385.3 60.7,383.7" stroke-width="5.11"/>
<path d="M60.7,383.7 C57.9,382.1 52.4,380.0 50.7,379.3" stroke-width="4.97"/>
<path d="M66.0,388.5 C64.6,388.8 60.1,389.3 57.4,390.3" stroke-width="4.95"/>
<path d="M57.4,390.3 C54.7,391.3 52.4,393.6 49.6,394.3" stroke-width="4.95"/>
<path d="M49.6,394.3 C46.8,395.0 42.3,394.3 40.8,394.3" stroke-width="4.95"/>
<path d="M68.5,390.5 C67.9,390.9 66.1,392.3 65.0,393.0" stroke-width="4.95"/>
<path d="M65.0,393.0 C63.9,393.7 62.3,394.4 61.8,394.7" stroke-width="4.95"/>
<path d="M96.0,383.0 C95.3,384.5 93.5,389.3 92.0,392.0" stroke-width="5.94"/>
<path d="M92.0,392.0 C90.5,394.7 89.7,397.1 87.0,399.0" stroke-width="5.84"/>
<path d="M87.0,399.0 C84.3,400.9 80.8,402.7 76.0,403.6" stroke-width="5.72"/>
<path d="M76.0,403.6 C71.2,404.6 63.3,403.8 58.5,404.7" stroke-width="5.56"/>
<path d="M58.5,404.7 C53.7,405.6 50.4,407.4 47.4,409.0" stroke-width="5.39"/>
<path d="M47.4,409.0 C44.4,410.6 43.7,412.9 40.8,414.6" stroke-width="5.28"/>
<path d="M40.8,414.6 C37.9,416.3 33.1,417.7 29.8,419.0" stroke-width="5.16"/>
<path d="M29.8,419.0 C26.5,420.3 23.5,421.0 21.0,422.3" stroke-width="5.04"/>
<path d="M21.0,422.3 C18.5,423.6 15.8,426.0 14.8,426.7" stroke-width="4.94"/>
<path d="M41.5,414.0 C40.5,413.0 37.7,409.4 35.3,408.0" stroke-width="4.95"/>
<path d="M35.3,408.0 C32.9,406.6 28.5,406.2 27.2,405.8" stroke-width="4.95"/>
<path d="M27.6,420.2 C27.4,421.5 27.1,425.2 26.5,427.8" stroke-width="4.95"/>
<path d="M26.5,427.8 C25.9,430.4 24.2,434.2 23.7,435.5" stroke-width="4.95"/>
<path d="M116.0,372.5 C116.9,372.5 119.5,372.5 121.6,372.3" stroke-width="5.93"/>
<path d="M121.6,372.3 C123.7,372.1 126.3,372.0 128.5,371.2" stroke-width="5.79"/>
<path d="M128.5,371.2 C130.7,370.4 132.6,368.7 134.7,367.7" stroke-width="5.62"/>
<path d="M134.7,367.7 C136.8,366.7 138.9,365.5 140.8,365.2" stroke-width="5.46"/>
<path d="M140.8,365.2 C142.7,364.9 144.1,364.9 146.0,365.6" stroke-width="5.32"/>
<path d="M146.0,365.6 C147.9,366.3 150.0,368.4 152.3,369.4" stroke-width="5.17"/>
<path d="M152.3,369.4 C154.6,370.4 158.7,371.2 160.0,371.6" stroke-width="4.99"/>
<path d="M116.0,375.0 C117.0,375.6 119.9,377.0 122.0,378.5" stroke-width="5.94"/>
<path d="M122.0,378.5 C124.1,380.0 125.8,382.8 128.5,384.2" stroke-width="5.80"/>
<path d="M128.5,384.2 C131.2,385.6 134.9,386.7 138.5,387.2" stroke-width="5.63"/>
<path d="M138.5,387.2 C142.1,387.7 146.6,386.5 150.0,387.0" stroke-width="5.44"/>
<path d="M150.0,387.0 C153.4,387.5 156.3,389.2 158.9,390.3" stroke-width="5.26"/>
<path d="M158.9,390.3 C161.5,391.4 163.1,392.7 165.5,393.6" stroke-width="5.11"/>
<path d="M165.5,393.6 C167.9,394.5 171.9,395.5 173.2,395.9" stroke-width="4.97"/>
<path d="M158.5,390.0 C159.7,389.5 163.4,387.5 165.5,387.0" stroke-width="4.95"/>
<path d="M165.5,387.0 C167.6,386.5 170.1,387.0 171.0,387.0" stroke-width="4.95"/>
<path d="M113.0,378.0 C114.0,378.8 117.4,380.8 119.0,383.0" stroke-width="6.14"/>
<path d="M119.0,383.0 C120.6,385.2 121.2,388.6 122.8,391.4" stroke-width="6.02"/>
<path d="M122.8,391.4 C124.4,394.2 126.4,397.4 128.4,399.8" stroke-width="5.88"/>
<path d="M128.4,399.8 C130.4,402.2 133.2,403.6 134.8,406.0" stroke-width="5.74"/>
<path d="M134.8,406.0 C136.4,408.4 137.6,411.1 138.0,414.0" stroke-width="5.61"/>
<path d="M138.0,414.0 C138.4,416.9 136.8,421.1 137.5,423.3" stroke-width="5.47"/>
<path d="M137.5,423.3 C138.2,425.5 140.0,427.0 142.0,427.3" stroke-width="5.36"/>
<path d="M142.0,427.3 C144.0,427.6 147.0,425.5 149.3,425.3" stroke-width="5.26"/>
<path d="M149.3,425.3 C151.6,425.1 154.4,425.6 156.0,426.0" stroke-width="5.16"/>
<path d="M156.0,426.0 C157.6,426.4 158.0,426.9 158.6,428.0" stroke-width="5.08"/>
<path d="M158.6,428.0 C159.2,429.1 158.6,431.0 159.3,432.6" stroke-width="5.02"/>
<path d="M159.3,432.6 C160.0,434.2 162.1,436.9 162.6,437.8" stroke-width="4.95"/>
<path d="M158.0,427.2 C159.2,427.2 163.4,426.5 165.2,427.3" stroke-width="4.95"/>
<path d="M165.2,427.3 C166.9,428.1 167.9,431.2 168.5,432.0" stroke-width="4.95"/>
<path d="M135.5,408.0 C134.8,408.9 132.2,411.5 131.5,413.4" stroke-width="4.95"/>
<path d="M131.5,413.4 C130.8,415.3 131.5,418.3 131.5,419.3" stroke-width="4.95"/>
<path d="M185.4,79.5 C185.2,81.6 184.7,87.8 184.5,92.0 C184.3,96.2 184.2,98.7 184.2,105.0 C184.2,111.3 184.2,123.3 184.4,130.0 C184.6,136.7 185.1,140.0 185.6,145.0 C186.1,150.0 186.7,155.0 187.2,160.0 C187.7,165.0 188.2,170.0 188.6,175.0 C188.9,180.0 189.2,185.0 189.3,190.0 C189.4,195.0 189.3,200.0 189.1,205.0 C188.8,210.0 188.4,215.3 187.8,220.0 C187.2,224.7 186.5,227.5 185.8,233.0 C185.1,238.5 184.3,247.3 183.4,253.0 C182.5,258.7 181.8,263.6 180.6,267.0 C179.4,270.4 177.6,271.6 176.0,273.2 C174.4,274.8 171.8,276.2 171.0,276.8" stroke-width="3.8" stroke-linecap="butt"/>
</g>
<g class="w">
<path d="M102.2,330.0 C102.0,331.0 101.8,333.3 101.2,336.0 C100.6,338.7 99.5,343.4 98.6,346.0 C97.7,348.6 97.0,349.2 96.0,351.5 C95.0,353.8 93.3,357.1 92.6,360.0 C91.9,362.9 92.0,366.6 91.6,369.0 C91.2,371.4 91.0,372.9 90.4,374.5 C89.8,376.1 88.5,377.1 88.2,378.5 C87.9,379.9 88.0,381.4 88.5,383.0 C89.0,384.6 90.3,386.7 91.0,388.0 C91.7,389.3 91.8,391.3 92.5,391.0 C93.2,390.7 94.3,387.7 95.5,386.0 C96.7,384.3 97.8,382.2 99.5,381.0 C101.2,379.8 103.8,378.9 106.0,378.7 C108.2,378.5 110.8,379.1 112.5,380.0 C114.2,380.9 115.2,384.0 116.5,384.0 C117.8,384.0 119.6,381.3 120.0,380.0 C120.4,378.7 118.8,377.3 119.0,376.0 C119.2,374.7 120.8,373.7 121.0,372.0 C121.2,370.3 120.6,368.1 120.0,366.0 C119.4,363.9 118.6,361.7 117.5,359.5 C116.4,357.3 114.8,355.0 113.5,353.0 C112.2,351.0 110.6,349.8 109.6,347.6 C108.5,345.4 107.9,342.3 107.2,340.0 C106.5,337.7 106.0,335.7 105.4,334.0 C104.8,332.3 103.9,330.7 103.6,330.0 Z" fill="url(#ng)" stroke="none"/>
<path d="M104.2,347.0 C104.0,345.0 103.2,339.2 102.8,335.0" stroke-width="4.33" stroke="url(#tg)"/>
<path d="M102.8,335.0 C102.4,330.8 102.2,326.2 102.0,322.0" stroke-width="4.17" stroke="url(#tg)"/>
<path d="M102.0,322.0 C101.8,317.8 101.9,314.5 101.8,310.0" stroke-width="4.02" stroke="url(#tg)"/>
<path d="M101.8,310.0 C101.7,305.5 101.3,298.7 101.2,295.0" stroke-width="3.85" stroke="url(#tg)"/>
<path d="M101.2,295.0 C101.1,291.3 101.0,293.0 101.0,288.0" stroke-width="3.72" stroke="url(#tg)"/>
<path d="M101.0,288.0 C101.0,283.0 100.9,272.7 101.3,265.0" stroke-width="3.54" stroke="url(#tg)"/>
<path d="M101.3,265.0 C101.7,257.3 102.6,249.2 103.4,242.0" stroke-width="3.25" stroke="url(#tg)"/>
<path d="M103.4,242.0 C104.2,234.8 105.6,228.2 106.2,222.0" stroke-width="2.99" stroke="url(#tg)"/>
<path d="M106.2,222.0 C106.8,215.8 106.8,209.7 106.9,205.0" stroke-width="2.76" stroke="url(#tg)"/>
<path d="M106.9,205.0 C107.0,200.3 107.2,197.3 106.8,193.6" stroke-width="2.59" stroke="url(#tg)"/>
<path d="M106.8,193.6 C106.4,189.9 105.4,186.0 104.7,182.6" stroke-width="2.45" stroke="url(#tg)"/>
<path d="M104.7,182.6 C104.0,179.2 103.3,176.8 102.6,173.0" stroke-width="2.32" stroke="url(#tg)"/>
<path d="M102.6,173.0 C101.9,169.2 100.9,162.2 100.6,160.0" stroke-width="2.18" stroke="url(#tg)"/>
<path d="M100.6,160.0 C100.2,158.8 99.5,155.2 98.5,153.0" stroke-width="2.00"/>
<path d="M98.5,153.0 C97.5,150.8 96.5,149.9 94.9,146.7" stroke-width="1.99"/>
<path d="M94.9,146.7 C93.3,143.4 90.4,137.0 88.8,133.5" stroke-width="1.98"/>
<path d="M88.8,133.5 C87.2,130.0 86.7,128.2 85.4,125.8" stroke-width="1.96"/>
<path d="M85.4,125.8 C84.1,123.4 82.6,120.7 80.8,119.0" stroke-width="1.96"/>
<path d="M80.8,119.0 C79.0,117.3 77.4,116.3 74.8,115.4" stroke-width="1.95"/>
<path d="M74.8,115.4 C72.2,114.5 68.2,114.1 64.9,113.4" stroke-width="1.94"/>
<path d="M64.9,113.4 C61.6,112.7 58.0,112.2 54.9,111.4" stroke-width="1.93"/>
<path d="M54.9,111.4 C51.8,110.6 48.3,109.7 46.0,108.4" stroke-width="1.92"/>
<path d="M46.0,108.4 C43.7,107.1 42.0,105.1 41.3,103.5" stroke-width="1.91"/>
<path d="M41.3,103.5 C40.6,101.9 41.9,99.6 42.0,98.8" stroke-width="1.90"/>
<path d="M57.7,110.0 C57.6,109.2 57.2,106.5 57.1,105.0" stroke-width="1.95"/>
<path d="M57.1,105.0 C57.0,103.5 57.9,102.1 57.4,101.0" stroke-width="1.95"/>
<path d="M57.4,101.0 C56.9,99.9 55.7,98.9 54.4,98.3" stroke-width="1.95"/>
<path d="M54.4,98.3 C53.1,97.7 50.4,97.7 49.6,97.6" stroke-width="1.95"/>
<path d="M98.6,156.0 C97.7,154.7 95.1,150.0 93.4,148.0" stroke-width="1.95"/>
<path d="M93.4,148.0 C91.7,146.0 90.2,144.7 88.3,143.8" stroke-width="1.95"/>
<path d="M88.3,143.8 C86.4,142.9 84.6,142.3 82.3,142.6" stroke-width="1.95"/>
<path d="M82.3,142.6 C80.0,142.9 77.0,145.0 74.4,145.6" stroke-width="1.95"/>
<path d="M74.4,145.6 C71.8,146.2 69.0,146.7 66.5,146.4" stroke-width="1.95"/>
<path d="M66.5,146.4 C64.0,146.1 61.5,144.9 59.5,143.8" stroke-width="1.95"/>
<path d="M59.5,143.8 C57.5,142.8 55.6,140.7 54.8,140.1" stroke-width="1.95"/>
<path d="M100.6,160.0 C101.0,159.2 101.6,156.5 103.0,155.0" stroke-width="2.00"/>
<path d="M103.0,155.0 C104.4,153.5 106.7,152.9 108.8,151.0" stroke-width="1.99"/>
<path d="M108.8,151.0 C110.9,149.1 113.8,146.3 115.4,143.4" stroke-width="1.98"/>
<path d="M115.4,143.4 C117.1,140.5 117.8,137.0 118.7,133.5" stroke-width="1.96"/>
<path d="M118.7,133.5 C119.6,130.0 119.9,126.1 121.0,122.4" stroke-width="1.95"/>
<path d="M121.0,122.4 C122.1,118.7 123.7,114.5 125.3,111.4" stroke-width="1.93"/>
<path d="M125.3,111.4 C126.9,108.3 129.0,106.0 130.8,103.7" stroke-width="1.92"/>
<path d="M130.8,103.7 C132.6,101.4 135.4,98.8 136.3,97.8" stroke-width="1.91"/>
<path d="M125.5,113.5 C126.1,114.0 127.4,115.9 129.0,116.6" stroke-width="1.95"/>
<path d="M129.0,116.6 C130.6,117.3 132.8,117.1 135.0,117.6" stroke-width="1.95"/>
<path d="M135.0,117.6 C137.2,118.1 141.1,119.4 142.3,119.8" stroke-width="1.95"/>
<path d="M116.8,139.5 C115.8,138.1 112.4,133.6 111.0,131.3" stroke-width="1.95"/>
<path d="M111.0,131.3 C109.6,129.0 108.8,127.6 108.6,125.7" stroke-width="1.95"/>
<path d="M108.6,125.7 C108.4,123.8 110.2,122.0 110.0,120.2" stroke-width="1.95"/>
<path d="M110.0,120.2 C109.8,118.4 107.6,116.6 107.2,114.7" stroke-width="1.95"/>
<path d="M107.2,114.7 C106.8,112.8 107.6,109.8 107.7,108.8" stroke-width="1.95"/>
<path d="M105.0,228.0 C104.6,226.3 104.4,221.0 102.5,217.9" stroke-width="2.09"/>
<path d="M102.5,217.9 C100.6,214.8 96.7,211.4 93.7,209.5" stroke-width="2.07"/>
<path d="M93.7,209.5 C90.7,207.6 88.2,207.7 84.3,206.3" stroke-width="2.04"/>
<path d="M84.3,206.3 C80.4,204.9 74.0,203.5 70.4,201.3" stroke-width="2.02"/>
<path d="M70.4,201.3 C66.8,199.2 64.3,195.9 62.5,193.4" stroke-width="1.99"/>
<path d="M62.5,193.4 C60.7,190.9 59.8,188.5 59.5,186.5" stroke-width="1.97"/>
<path d="M59.5,186.5 C59.2,184.5 59.7,183.3 60.5,181.5" stroke-width="1.96"/>
<path d="M60.5,181.5 C61.3,179.7 63.7,177.4 64.5,175.6" stroke-width="1.95"/>
<path d="M64.5,175.6 C65.3,173.8 66.1,172.1 65.3,170.4" stroke-width="1.94"/>
<path d="M65.3,170.4 C64.5,168.7 61.4,167.2 59.5,165.6" stroke-width="1.92"/>
<path d="M59.5,165.6 C57.6,164.0 54.8,161.7 53.8,160.9" stroke-width="1.91"/>
<path d="M59.6,184.6 C58.4,184.9 54.6,185.7 52.6,186.5" stroke-width="1.95"/>
<path d="M52.6,186.5 C50.6,187.3 48.4,188.9 47.6,189.4" stroke-width="1.95"/>
<path d="M106.6,196.0 C106.8,195.2 106.8,192.3 107.5,191.0" stroke-width="2.00"/>
<path d="M107.5,191.0 C108.2,189.7 108.6,188.7 111.0,188.0" stroke-width="1.99"/>
<path d="M111.0,188.0 C113.4,187.3 117.6,187.1 122.0,187.0" stroke-width="1.97"/>
<path d="M122.0,187.0 C126.4,186.9 133.5,188.1 137.4,187.7" stroke-width="1.95"/>
<path d="M137.4,187.7 C141.3,187.3 143.7,186.8 145.2,184.8" stroke-width="1.93"/>
<path d="M145.2,184.8 C146.7,182.9 145.9,178.6 146.3,176.0" stroke-width="1.92"/>
<path d="M146.3,176.0 C146.7,173.4 147.2,170.2 147.4,169.0" stroke-width="1.91"/>
<path d="M145.2,184.8 C146.5,184.1 150.7,181.3 152.9,180.4" stroke-width="1.95"/>
<path d="M152.9,180.4 C155.1,179.5 157.5,179.5 158.4,179.3" stroke-width="1.95"/>
<path d="M102.0,279.0 C102.2,278.4 102.5,276.5 103.5,275.5" stroke-width="2.09"/>
<path d="M103.5,275.5 C104.5,274.5 105.6,273.8 108.2,272.9" stroke-width="2.08"/>
<path d="M108.2,272.9 C110.8,272.0 115.5,271.6 119.2,270.2" stroke-width="2.05"/>
<path d="M119.2,270.2 C122.9,268.8 127.4,266.9 130.2,264.7" stroke-width="2.02"/>
<path d="M130.2,264.7 C132.9,262.5 133.8,259.2 135.7,257.0" stroke-width="1.98"/>
<path d="M135.7,257.0 C137.5,254.8 139.1,253.0 141.3,251.5" stroke-width="1.95"/>
<path d="M141.3,251.5 C143.5,250.0 147.0,249.2 149.0,248.2" stroke-width="1.93"/>
<path d="M149.0,248.2 C151.0,247.2 152.7,246.0 153.4,245.6" stroke-width="1.91"/>
<path d="M103.0,306.0 C103.3,305.2 103.3,302.4 104.9,301.0" stroke-width="2.09"/>
<path d="M104.9,301.0 C106.5,299.6 109.8,298.6 112.6,297.8" stroke-width="2.08"/>
<path d="M112.6,297.8 C115.3,297.0 119.4,297.5 121.4,296.2" stroke-width="2.06"/>
<path d="M121.4,296.2 C123.4,294.9 124.0,292.5 124.7,290.0" stroke-width="2.04"/>
<path d="M124.7,290.0 C125.4,287.5 124.9,283.7 125.8,281.3" stroke-width="2.02"/>
<path d="M125.8,281.3 C126.7,278.9 128.0,276.9 130.2,275.7" stroke-width="2.00"/>
<path d="M130.2,275.7 C132.4,274.5 135.7,274.6 139.0,274.4" stroke-width="1.98"/>
<path d="M139.0,274.4 C142.3,274.2 147.1,274.4 150.0,274.5" stroke-width="1.96"/>
<path d="M150.0,274.5 C152.9,274.6 154.5,274.2 156.4,275.2" stroke-width="1.94"/>
<path d="M156.4,275.2 C158.3,276.1 160.1,278.6 161.7,280.2" stroke-width="1.92"/>
<path d="M161.7,280.2 C163.3,281.8 165.3,284.2 166.0,285.0" stroke-width="1.91"/>
<path d="M122.5,296.5 C124.2,296.4 129.3,296.2 132.4,295.6" stroke-width="1.95"/>
<path d="M132.4,295.6 C135.5,295.0 138.5,293.2 141.3,292.7" stroke-width="1.95"/>
<path d="M141.3,292.7 C144.1,292.2 147.0,292.4 149.0,292.7" stroke-width="1.95"/>
<path d="M149.0,292.7 C151.0,293.0 152.7,294.2 153.4,294.5" stroke-width="1.95"/>
<path d="M103.2,297.0 C103.7,296.5 105.0,295.0 106.0,294.0" stroke-width="1.95"/>
<path d="M106.0,294.0 C107.0,293.0 108.5,292.4 109.3,291.2" stroke-width="1.95"/>
<path d="M109.3,291.2 C110.1,290.0 110.6,287.5 110.9,286.8" stroke-width="1.95"/>
<path d="M101.5,329.0 C101.1,327.3 100.4,321.7 99.3,318.9" stroke-width="1.90"/>
<path d="M99.3,318.9 C98.2,316.1 96.7,313.6 94.9,312.3" stroke-width="1.90"/>
<path d="M94.9,312.3 C93.1,311.0 90.7,311.0 88.3,311.2" stroke-width="1.90"/>
<path d="M88.3,311.2 C85.9,311.4 83.0,313.6 80.6,313.4" stroke-width="1.90"/>
<path d="M80.6,313.4 C78.2,313.2 75.8,311.6 74.0,310.0" stroke-width="1.90"/>
<path d="M74.0,310.0 C72.2,308.4 71.3,305.9 69.6,303.5" stroke-width="1.90"/>
<path d="M69.6,303.5 C67.9,301.1 66.2,297.9 64.0,295.7" stroke-width="1.90"/>
<path d="M64.0,295.7 C61.8,293.4 59.2,291.4 56.3,290.0" stroke-width="1.90"/>
<path d="M56.3,290.0 C53.4,288.6 49.7,288.1 46.4,287.0" stroke-width="1.90"/>
<path d="M46.4,287.0 C43.1,285.9 38.7,285.1 36.5,283.6" stroke-width="1.90"/>
<path d="M36.5,283.6 C34.3,282.1 33.8,278.9 33.2,278.0" stroke-width="1.90"/>
<path d="M46.4,286.5 C46.5,285.6 47.6,282.8 47.0,281.0" stroke-width="1.95"/>
<path d="M47.0,281.0 C46.4,279.2 43.2,276.8 42.5,276.0" stroke-width="1.95"/>
<path d="M76.0,312.5 C74.4,312.1 69.4,310.8 66.3,310.0" stroke-width="1.95"/>
<path d="M66.3,310.0 C63.2,309.2 60.0,308.1 57.4,307.9" stroke-width="1.95"/>
<path d="M57.4,307.9 C54.8,307.7 52.8,309.7 50.8,309.0" stroke-width="1.95"/>
<path d="M50.8,309.0 C48.8,308.3 46.2,304.4 45.3,303.5" stroke-width="1.95"/>
<path d="M51.5,308.8 C50.8,309.5 48.5,312.0 47.5,313.0" stroke-width="1.95"/>
<path d="M47.5,313.0 C46.5,314.0 45.7,314.7 45.3,315.0" stroke-width="1.95"/>
<path d="M96.0,376.0 C95.3,376.6 93.5,378.6 92.0,379.5" stroke-width="3.74"/>
<path d="M92.0,379.5 C90.5,380.4 88.9,381.2 87.3,381.6" stroke-width="3.61"/>
<path d="M87.3,381.6 C85.7,382.0 83.8,381.9 82.5,381.7" stroke-width="3.49"/>
<path d="M82.5,381.7 C81.2,381.5 80.9,381.5 79.4,380.7" stroke-width="3.39"/>
<path d="M79.4,380.7 C77.9,379.9 75.7,378.4 73.4,376.8" stroke-width="3.26"/>
<path d="M73.4,376.8 C71.1,375.2 68.1,372.4 65.5,370.8" stroke-width="3.05"/>
<path d="M65.5,370.8 C62.9,369.2 60.2,367.8 57.6,367.0" stroke-width="2.83"/>
<path d="M57.6,367.0 C55.0,366.2 52.4,366.2 49.7,365.9" stroke-width="2.62"/>
<path d="M49.7,365.9 C47.1,365.6 44.0,366.0 41.7,365.2" stroke-width="2.43"/>
<path d="M41.7,365.2 C39.4,364.4 37.8,362.2 35.8,361.2" stroke-width="2.24"/>
<path d="M35.8,361.2 C33.8,360.1 30.8,359.3 29.8,358.9" stroke-width="2.08"/>
<path d="M94.0,383.0 C93.2,384.1 90.6,387.7 89.0,389.5" stroke-width="2.54"/>
<path d="M89.0,389.5 C87.4,391.3 86.7,393.3 84.5,393.8" stroke-width="2.45"/>
<path d="M84.5,393.8 C82.3,394.3 78.9,393.3 76.0,392.5" stroke-width="2.35"/>
<path d="M76.0,392.5 C73.1,391.7 69.8,390.7 67.3,389.2" stroke-width="2.23"/>
<path d="M67.3,389.2 C64.8,387.7 63.5,385.3 60.7,383.7" stroke-width="2.11"/>
<path d="M60.7,383.7 C57.9,382.1 52.4,380.0 50.7,379.3" stroke-width="1.97"/>
<path d="M66.0,388.5 C64.6,388.8 60.1,389.3 57.4,390.3" stroke-width="1.95"/>
<path d="M57.4,390.3 C54.7,391.3 52.4,393.6 49.6,394.3" stroke-width="1.95"/>
<path d="M49.6,394.3 C46.8,395.0 42.3,394.3 40.8,394.3" stroke-width="1.95"/>
<path d="M68.5,390.5 C67.9,390.9 66.1,392.3 65.0,393.0" stroke-width="1.95"/>
<path d="M65.0,393.0 C63.9,393.7 62.3,394.4 61.8,394.7" stroke-width="1.95"/>
<path d="M96.0,383.0 C95.3,384.5 93.5,389.3 92.0,392.0" stroke-width="2.94"/>
<path d="M92.0,392.0 C90.5,394.7 89.7,397.1 87.0,399.0" stroke-width="2.84"/>
<path d="M87.0,399.0 C84.3,400.9 80.8,402.7 76.0,403.6" stroke-width="2.72"/>
<path d="M76.0,403.6 C71.2,404.6 63.3,403.8 58.5,404.7" stroke-width="2.56"/>
<path d="M58.5,404.7 C53.7,405.6 50.4,407.4 47.4,409.0" stroke-width="2.39"/>
<path d="M47.4,409.0 C44.4,410.6 43.7,412.9 40.8,414.6" stroke-width="2.28"/>
<path d="M40.8,414.6 C37.9,416.3 33.1,417.7 29.8,419.0" stroke-width="2.16"/>
<path d="M29.8,419.0 C26.5,420.3 23.5,421.0 21.0,422.3" stroke-width="2.04"/>
<path d="M21.0,422.3 C18.5,423.6 15.8,426.0 14.8,426.7" stroke-width="1.94"/>
<path d="M41.5,414.0 C40.5,413.0 37.7,409.4 35.3,408.0" stroke-width="1.95"/>
<path d="M35.3,408.0 C32.9,406.6 28.5,406.2 27.2,405.8" stroke-width="1.95"/>
<path d="M27.6,420.2 C27.4,421.5 27.1,425.2 26.5,427.8" stroke-width="1.95"/>
<path d="M26.5,427.8 C25.9,430.4 24.2,434.2 23.7,435.5" stroke-width="1.95"/>
<path d="M116.0,372.5 C116.9,372.5 119.5,372.5 121.6,372.3" stroke-width="2.93"/>
<path d="M121.6,372.3 C123.7,372.1 126.3,372.0 128.5,371.2" stroke-width="2.79"/>
<path d="M128.5,371.2 C130.7,370.4 132.6,368.7 134.7,367.7" stroke-width="2.62"/>
<path d="M134.7,367.7 C136.8,366.7 138.9,365.5 140.8,365.2" stroke-width="2.46"/>
<path d="M140.8,365.2 C142.7,364.9 144.1,364.9 146.0,365.6" stroke-width="2.32"/>
<path d="M146.0,365.6 C147.9,366.3 150.0,368.4 152.3,369.4" stroke-width="2.17"/>
<path d="M152.3,369.4 C154.6,370.4 158.7,371.2 160.0,371.6" stroke-width="1.99"/>
<path d="M116.0,375.0 C117.0,375.6 119.9,377.0 122.0,378.5" stroke-width="2.94"/>
<path d="M122.0,378.5 C124.1,380.0 125.8,382.8 128.5,384.2" stroke-width="2.80"/>
<path d="M128.5,384.2 C131.2,385.6 134.9,386.7 138.5,387.2" stroke-width="2.63"/>
<path d="M138.5,387.2 C142.1,387.7 146.6,386.5 150.0,387.0" stroke-width="2.44"/>
<path d="M150.0,387.0 C153.4,387.5 156.3,389.2 158.9,390.3" stroke-width="2.26"/>
<path d="M158.9,390.3 C161.5,391.4 163.1,392.7 165.5,393.6" stroke-width="2.11"/>
<path d="M165.5,393.6 C167.9,394.5 171.9,395.5 173.2,395.9" stroke-width="1.97"/>
<path d="M158.5,390.0 C159.7,389.5 163.4,387.5 165.5,387.0" stroke-width="1.95"/>
<path d="M165.5,387.0 C167.6,386.5 170.1,387.0 171.0,387.0" stroke-width="1.95"/>
<path d="M113.0,378.0 C114.0,378.8 117.4,380.8 119.0,383.0" stroke-width="3.14"/>
<path d="M119.0,383.0 C120.6,385.2 121.2,388.6 122.8,391.4" stroke-width="3.02"/>
<path d="M122.8,391.4 C124.4,394.2 126.4,397.4 128.4,399.8" stroke-width="2.88"/>
<path d="M128.4,399.8 C130.4,402.2 133.2,403.6 134.8,406.0" stroke-width="2.74"/>
<path d="M134.8,406.0 C136.4,408.4 137.6,411.1 138.0,414.0" stroke-width="2.61"/>
<path d="M138.0,414.0 C138.4,416.9 136.8,421.1 137.5,423.3" stroke-width="2.47"/>
<path d="M137.5,423.3 C138.2,425.5 140.0,427.0 142.0,427.3" stroke-width="2.36"/>
<path d="M142.0,427.3 C144.0,427.6 147.0,425.5 149.3,425.3" stroke-width="2.26"/>
<path d="M149.3,425.3 C151.6,425.1 154.4,425.6 156.0,426.0" stroke-width="2.16"/>
<path d="M156.0,426.0 C157.6,426.4 158.0,426.9 158.6,428.0" stroke-width="2.08"/>
<path d="M158.6,428.0 C159.2,429.1 158.6,431.0 159.3,432.6" stroke-width="2.02"/>
<path d="M159.3,432.6 C160.0,434.2 162.1,436.9 162.6,437.8" stroke-width="1.95"/>
<path d="M158.0,427.2 C159.2,427.2 163.4,426.5 165.2,427.3" stroke-width="1.95"/>
<path d="M165.2,427.3 C166.9,428.1 167.9,431.2 168.5,432.0" stroke-width="1.95"/>
<path d="M135.5,408.0 C134.8,408.9 132.2,411.5 131.5,413.4" stroke-width="1.95"/>
<path d="M131.5,413.4 C130.8,415.3 131.5,418.3 131.5,419.3" stroke-width="1.95"/>
<path d="M185.3,80.8 C185.2,82.7 184.7,88.0 184.5,92.0 C184.3,96.0 184.2,98.7 184.2,105.0 C184.2,111.3 184.2,123.3 184.4,130.0 C184.6,136.7 185.1,140.0 185.6,145.0 C186.1,150.0 186.7,155.0 187.2,160.0 C187.7,165.0 188.2,170.0 188.6,175.0 C188.9,180.0 189.2,185.0 189.3,190.0 C189.4,195.0 189.3,200.0 189.1,205.0 C188.8,210.0 188.4,215.3 187.8,220.0 C187.2,224.7 186.5,227.5 185.8,233.0 C185.1,238.5 184.3,247.3 183.4,253.0 C182.5,258.7 181.8,263.6 180.6,267.0 C179.4,270.4 177.6,271.6 176.0,273.2 C174.4,274.8 171.8,276.2 171.0,276.8" stroke-width="1.5" stroke="#fff" stroke-linecap="butt"/>
</g>
<circle cx="105.3" cy="368.3" r="6.6" fill="#cecece" stroke="#484848" stroke-width="1.1"/>
<circle cx="104.3" cy="367.2" r="1.2" fill="#e2e2e2" stroke="#555" stroke-width="0.8"/>
<ellipse cx="168.6" cy="278.2" rx="3.0" ry="2.4" transform="rotate(35 168.6 278.2)" fill="#93d2f1" stroke="#1a2a36" stroke-width="1.3"/>
<g class="dash">
<circle cx="55.2" cy="143.4" r="9.4"/>
<path d="M46.2,140.5 L15.5,228"/>
<path d="M64.3,145.8 L75.2,232"/>
<circle cx="165.7" cy="281.1" r="15.4"/>
<path d="M159.2,267.2 L357,89"/>
<path d="M163,296.3 L344,319.5"/>
</g>
<circle cx="44.9" cy="235.2" r="30.2" fill="#fff" stroke="#3a3a3a" stroke-width="1"/>
<g clip-path="url(#magc)">
<path d="M32.5,224.6 L78,241.6 L68,259 L33.5,238.2 C30,236.5 27.6,233 27.8,229.5 C28,226 30,224 32.5,224.6 Z" fill="#cbe6f5" stroke="#1e2a33" stroke-width="1.2" stroke-linejoin="round"/>
<ellipse cx="33.8" cy="223.4" rx="2.7" ry="4.7" transform="rotate(-32 33.8 223.4)" fill="#8fcdf0" stroke="#1c3344" stroke-width="1.4"/>
<ellipse cx="44.4" cy="224.0" rx="2.7" ry="5.2" transform="rotate(-22 44.4 224.0)" fill="#8fcdf0" stroke="#1c3344" stroke-width="1.4"/>
<ellipse cx="54.5" cy="229.5" rx="2.6" ry="4.7" transform="rotate(-8 54.5 229.5)" fill="#8fcdf0" stroke="#1c3344" stroke-width="1.4"/>
<ellipse cx="62.4" cy="231.3" rx="2.0" ry="2.3" transform="rotate(-30 62.4 231.3)" fill="#8fcdf0" stroke="#1c3344" stroke-width="1.4"/>
<ellipse cx="67.9" cy="236" rx="4.4" ry="2.7" transform="rotate(-32 67.9 236)" fill="#8fcdf0" stroke="#1c3344" stroke-width="1.4"/>
<ellipse cx="26.6" cy="234.6" rx="3.1" ry="2.5" transform="rotate(10 26.6 234.6)" fill="#8fcdf0" stroke="#1c3344" stroke-width="1.4"/>
<ellipse cx="34.3" cy="239" rx="4.6" ry="2.7" transform="rotate(-38 34.3 239)" fill="#8fcdf0" stroke="#1c3344" stroke-width="1.4"/>
<ellipse cx="43.1" cy="241.3" rx="2.4" ry="3.3" transform="rotate(-15 43.1 241.3)" fill="#8fcdf0" stroke="#1c3344" stroke-width="1.4"/>
<ellipse cx="48.3" cy="245.6" rx="2.0" ry="2.2" transform="rotate(-30 48.3 245.6)" fill="#8fcdf0" stroke="#1c3344" stroke-width="1.4"/>
<ellipse cx="55" cy="247.8" rx="2.7" ry="4.2" transform="rotate(32 55 247.8)" fill="#8fcdf0" stroke="#1c3344" stroke-width="1.4"/>
</g>
<!-- /NEURON -->
<!-- LABELS -->
<text class="lbl" x="208" y="136.4" textLength="36.2" lengthAdjust="spacingAndGlyphs">Axon</text>
<text class="lbl" y="112"><tspan x="433" textLength="35.3" lengthAdjust="spacingAndGlyphs">Axon</tspan> <tspan x="475.1" textLength="62.6" lengthAdjust="spacingAndGlyphs">terminal</tspan></text>
<text class="lbl med" x="192.1" y="287.8" textLength="64.9" lengthAdjust="spacingAndGlyphs">Synapse</text>
<text class="lbl" y="341.4"><tspan x="7.4" textLength="26.8" lengthAdjust="spacingAndGlyphs">Cell</tspan> <tspan x="41" textLength="35.2" lengthAdjust="spacingAndGlyphs">body</tspan></text>
<text class="lbl" x="178.9" y="375.2" textLength="60.1" lengthAdjust="spacingAndGlyphs">Nucleus</text>
<text class="lbl" x="60.7" y="437.6" textLength="62.7" lengthAdjust="spacingAndGlyphs">Dendrite</text>
<text class="lbl" x="432.7" y="307.5" textLength="42.3" lengthAdjust="spacingAndGlyphs">Spine</text>
<text class="lbl" x="496.7" y="307.5" textLength="64.5" lengthAdjust="spacingAndGlyphs">Dendrite</text>
<text class="cap med" x="353.7" y="383.1" textLength="47.4" lengthAdjust="spacingAndGlyphs">Awake</text>
<text class="cap med" x="580.8" y="383.1" textLength="51.9" lengthAdjust="spacingAndGlyphs">Asleep</text>

<!-- leaders -->
<g class="ld">
<path d="M184.400,130.200 H203"/>
<path d="M394,104.800 H428.400"/>
<path d="M176.800,281.400 H188.700"/>
<path d="M83.200,334.900 H89.700 L103.500,354"/>
<path d="M110.500,367.800 H173"/>
<path d="M25.900,429.500 H53"/>
<path d="M412.700,300.500 H428.200"/>
<path d="M563.700,300.200 H574.800 V332.500"/>
</g>
<g fill="#231f20">
<circle cx="184.400" cy="130.200" r="1.6"/>
<circle cx="394" cy="104.800" r="2.1"/>
<circle cx="176.800" cy="281.400" r="2"/>
<circle cx="103.500" cy="354.300" r="1.9"/>
<circle cx="110.500" cy="367.900" r="1.9"/>
<circle cx="25.900" cy="429.500" r="1.6"/>
<circle cx="412.700" cy="300.500" r="2.1"/>
<circle cx="574.800" cy="332.600" r="2.1"/>
</g>

</svg>
</body></html>
